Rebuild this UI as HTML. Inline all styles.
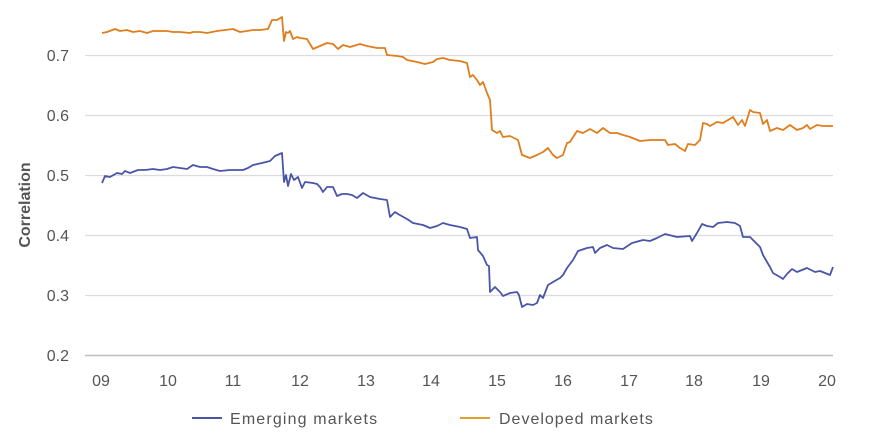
<!DOCTYPE html>
<html>
<head>
<meta charset="utf-8">
<style>
  html,body{margin:0;padding:0;background:#fff;}
  svg{display:block;}
  text{font-family:"Liberation Sans",Arial,sans-serif;}
</style>
</head>
<body>
<svg width="870" height="438" viewBox="0 0 870 438" xmlns="http://www.w3.org/2000/svg">
  <g stroke="#dcdcdc" stroke-width="1.2">
    <line x1="85" y1="55.5" x2="833" y2="55.5"/>
    <line x1="85" y1="115.5" x2="833" y2="115.5"/>
    <line x1="85" y1="175.5" x2="833" y2="175.5"/>
    <line x1="85" y1="235.5" x2="833" y2="235.5"/>
    <line x1="85" y1="295.5" x2="833" y2="295.5"/>
  </g>
  <line x1="85" y1="355.5" x2="833" y2="355.5" stroke="#bdbdbd" stroke-width="1.4"/>

  <g fill="#555" font-size="16" text-anchor="end">
    <text x="69" y="61">0.7</text>
    <text x="69" y="121">0.6</text>
    <text x="69" y="181">0.5</text>
    <text x="69" y="241">0.4</text>
    <text x="69" y="301">0.3</text>
    <text x="69" y="361">0.2</text>
  </g>
  <text transform="translate(30,205) rotate(-90)" fill="#555" font-size="16" font-weight="bold" text-anchor="middle">Correlation</text>

  <g fill="#555" font-size="16" text-anchor="middle">
    <text x="101" y="386">09</text>
    <text x="168" y="386">10</text>
    <text x="233" y="386">11</text>
    <text x="300" y="386">12</text>
    <text x="366" y="386">13</text>
    <text x="431" y="386">14</text>
    <text x="497" y="386">15</text>
    <text x="563" y="386">16</text>
    <text x="629" y="386">17</text>
    <text x="694" y="386">18</text>
    <text x="761" y="386">19</text>
    <text x="827" y="386">20</text>
  </g>

  <polyline fill="none" stroke="#E07D1C" stroke-width="1.8" stroke-linejoin="round"
    points="102,33 107,32 115,29 120,31 127,30 133,32 140,31 147,33 153,31 160,31 167,31 173,32 180,32 190,33 193,32 200,32 207,33 217,31 225,30 233,29 240,32 247,31 253,30 260,30 268,29 272,20 277,20 282,17 284,41 286,32 288,33 290,31 293,39 297,37 300,38 307,39 313,49 320,46 327,43 333,44 338,49 343,45 350,47 360,44 367,46 377,48 385,48 387,55 397,56 403,57 407,60 417,62 425,64 433,62 437,59 443,58 450,60 460,61 467,63 470,77 473,75 477,80 480,85 483,82 487,93 490,100 492,130 497,133 500,131 503,137 510,136 518,140 522,155 530,158 537,155 543,152 548,148 553,155 557,158 563,155 567,143 570,142 577,131 583,133 590,129 597,133 603,128 610,133 617,133 623,135 630,137 640,141 650,140 665,140 668,145 675,144 680,148 685,151 688,144 695,145 700,140 703,123 707,124 710,126 717,122 723,123 733,117 738,125 742,120 745,126 750,110 753,112 760,113 763,124 767,120 770,131 777,128 783,130 790,125 797,130 803,128 807,125 810,129 817,125 823,126 833,126"/>

  <polyline fill="none" stroke="#4A55A8" stroke-width="1.8" stroke-linejoin="round"
    points="102,183 105,176 110,177 117,173 122,174 125,171 130,173 138,170 145,170 153,169 160,170 167,169 173,167 180,168 187,169 193,165 200,167 207,167 213,169 220,171 230,170 243,170 248,168 253,165 262,163 270,161 275,156 282,153 284,182 286,175 288,186 291,174 294,180 298,177 302,188 305,182 313,183 317,184 320,187 323,192 327,187 333,187 337,196 342,194 347,194 352,195 357,198 363,193 370,197 375,198 380,199 387,200 390,217 395,212 398,214 407,219 413,223 423,225 430,228 437,226 443,223 450,225 460,227 467,229 470,238 477,237 478,250 483,256 487,265 489,266 490,292 495,287 500,292 503,296 510,293 517,292 519,295 522,307 527,304 533,305 537,303 540,295 543,298 548,285 553,282 560,278 563,275 567,268 573,260 578,251 587,248 593,247 595,253 600,248 607,245 613,248 623,249 632,243 643,240 650,241 657,238 665,234 677,237 690,236 692,241 697,233 702,224 707,226 713,227 718,223 727,222 735,223 740,226 743,237 750,237 755,242 760,247 763,255 767,262 770,267 773,273 780,277 783,279 787,274 792,269 797,272 802,270 807,268 815,272 820,271 830,275 833,267"/>

  <line x1="192" y1="418" x2="222" y2="418" stroke="#4A55A8" stroke-width="2"/>
  <text x="230" y="424" fill="#555" font-size="16" letter-spacing="1.15">Emerging markets</text>
  <line x1="460" y1="418" x2="490" y2="418" stroke="#E0A030" stroke-width="2"/>
  <text x="499" y="424" fill="#555" font-size="16" letter-spacing="1">Developed markets</text>
</svg>
</body>
</html>
